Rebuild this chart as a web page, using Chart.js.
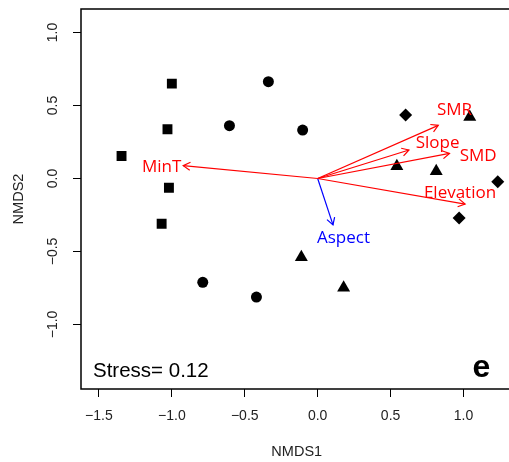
<!DOCTYPE html>
<html>
<head>
<meta charset="utf-8">
<script src="https://cdn.jsdelivr.net/npm/chart.js@4/dist/chart.umd.min.js"></script>
<style>
  html, body { margin: 0; padding: 0; background: #fff; overflow: hidden; }
  #wrap { width: 520px; height: 462px; position: relative; }
</style>
</head>
<body>
<div id="wrap"><canvas id="nmds-chart"></canvas></div>
<script>
// Site scores, one pair of arrays per symbol
const squareX = [-1.00, -1.03, -1.345, -1.02, -1.07];
const squareY = [0.65, 0.337, 0.154, -0.063, -0.31];
const circleX = [-0.338, -0.605, -0.103, -0.788, -0.42];
const circleY = [0.663, 0.362, 0.332, -0.711, -0.812];
const triangleX = [1.043, 0.543, 0.813, -0.112, 0.178];
const triangleY = [0.422, 0.084, 0.05, -0.539, -0.748];
const diamondX = [0.603, 1.235, 0.97];
const diamondY = [0.435, -0.022, -0.27];

// Fitted environmental vectors (arrow tips) and where their names sit
const envNames = ['SMR', 'Slope', 'SMD', 'Elevation', 'MinT', 'Aspect'];
const envX = [0.827, 0.626, 0.904, 1.011, -0.922, 0.105];
const envY = [0.364, 0.195, 0.172, -0.175, 0.088, -0.318];
const envLabelX = [0.938, 0.822, 1.101, 0.976, -1.070, 0.177];
const envLabelY = [0.469, 0.243, 0.154, -0.103, 0.081, -0.408];
const envSignificant = [true, true, true, true, true, false];

// Axes
const xTicks = [-1.5, -1.0, -0.5, 0.0, 0.5, 1.0];
const yTicks = [-1.0, -0.5, 0.0, 0.5, 1.0];
const stressValue = 0.12;
const panelLetter = 'e';

const AXIS_FONT = '"Liberation Sans", Arial, sans-serif';

function toPoints(xs, ys) {
    return xs.map((x, i) => ({ x: x, y: ys[i] }));
}

function fmt(v) {
    return v.toFixed(1).replace('-', '\u2212');
}

// Arrows first so they draw on top of the site symbols
const datasets = [];
envNames.forEach(function(name, i) {
    datasets.push({
        label: name,
        data: [{ x: 0, y: 0 }, { x: envX[i], y: envY[i] }],
        showLine: true,
        pointRadius: 0,
        borderColor: envSignificant[i] ? '#ff0000' : '#0000ff',
        borderWidth: 1.2,
        arrow: true
    });
});

const symbolStyle = { backgroundColor: '#000', borderColor: '#000', borderWidth: 0, showLine: false };
datasets.push(Object.assign({ label: 'squares', data: toPoints(squareX, squareY), pointStyle: 'rect', pointRadius: 7 }, symbolStyle));
datasets.push(Object.assign({ label: 'circles', data: toPoints(circleX, circleY), pointStyle: 'circle', pointRadius: 5.5 }, symbolStyle));
datasets.push(Object.assign({ label: 'triangles', data: toPoints(triangleX, triangleY), pointStyle: 'triangle', pointRadius: 7.5 }, symbolStyle));
datasets.push(Object.assign({ label: 'diamonds', data: toPoints(diamondX, diamondY), pointStyle: 'rectRot', pointRadius: 6.5 }, symbolStyle));

// Box, arrow heads, labels and tick text, R style
const rPlotPlugin = {
    id: 'rPlot',
    afterDatasetsDraw(chart) {
        const ctx = chart.ctx;
        const xs = chart.scales.x;
        const ys = chart.scales.y;

        // arrow heads
        chart.data.datasets.forEach(function(ds) {
            if (!ds.arrow) return;
            const x0 = xs.getPixelForValue(ds.data[0].x);
            const y0 = ys.getPixelForValue(ds.data[0].y);
            const x1 = xs.getPixelForValue(ds.data[1].x);
            const y1 = ys.getPixelForValue(ds.data[1].y);
            const ang = Math.atan2(y1 - y0, x1 - x0);
            const len = 8;
            ctx.save();
            ctx.strokeStyle = ds.borderColor;
            ctx.lineWidth = 1.2;
            ctx.beginPath();
            ctx.moveTo(x1 - len * Math.cos(ang - Math.PI / 6), y1 - len * Math.sin(ang - Math.PI / 6));
            ctx.lineTo(x1, y1);
            ctx.lineTo(x1 - len * Math.cos(ang + Math.PI / 6), y1 - len * Math.sin(ang + Math.PI / 6));
            ctx.stroke();
            ctx.restore();
        });

        // vector names
        ctx.save();
        ctx.font = '17px "Open Sans", sans-serif';
        ctx.textAlign = 'center';
        ctx.textBaseline = 'middle';
        envNames.forEach(function(name, i) {
            ctx.fillStyle = envSignificant[i] ? '#ff0000' : '#0000ff';
            ctx.fillText(name, xs.getPixelForValue(envLabelX[i]), ys.getPixelForValue(envLabelY[i]));
        });
        ctx.restore();
    },
    afterDraw(chart) {
        const ctx = chart.ctx;
        const area = chart.chartArea;
        const xs = chart.scales.x;
        const ys = chart.scales.y;

        ctx.save();
        // plot box
        ctx.strokeStyle = '#000';
        ctx.lineWidth = 1.5;
        ctx.strokeRect(area.left, area.top, area.right - area.left, area.bottom - area.top);

        // tick labels
        ctx.fillStyle = '#222';
        ctx.font = '14px ' + AXIS_FONT;
        ctx.textAlign = 'center';
        ctx.textBaseline = 'middle';
        xTicks.forEach(function(v) {
            ctx.fillText(fmt(v), xs.getPixelForValue(v), area.bottom + 27);
        });
        yTicks.forEach(function(v) {
            ctx.save();
            ctx.translate(area.left - 28, ys.getPixelForValue(v));
            ctx.rotate(-Math.PI / 2);
            ctx.fillText(fmt(v), 0, 0);
            ctx.restore();
        });

        // axis titles
        ctx.font = '14.5px ' + AXIS_FONT;
        ctx.fillText('NMDS1', (area.left + area.right) / 2, area.bottom + 63);
        ctx.save();
        ctx.translate(18.5, (area.top + area.bottom) / 2);
        ctx.rotate(-Math.PI / 2);
        ctx.fillText('NMDS2', 0, 0);
        ctx.restore();

        // stress and panel letter
        ctx.fillStyle = '#000';
        ctx.textBaseline = 'alphabetic';
        ctx.textAlign = 'left';
        ctx.font = '20.5px ' + AXIS_FONT;
        ctx.fillText('Stress= ' + stressValue.toFixed(2), area.left + 12, area.bottom - 12);
        ctx.textAlign = 'center';
        ctx.font = 'bold 32px ' + AXIS_FONT;
        ctx.fillText(panelLetter, area.right - 31, area.bottom - 12);
        ctx.restore();
    }
};

const tickGrid = { drawOnChartArea: false, drawTicks: true, tickLength: 8, color: '#000', lineWidth: 1 };

new Chart(document.getElementById('nmds-chart'), {
    type: 'scatter',
    data: { datasets: datasets },
    options: {
        responsive: true,
        maintainAspectRatio: false,
        animation: false,
        layout: { padding: { top: 9, right: 7, bottom: 0, left: 0 } },
        plugins: {
            legend: { display: false },
            tooltip: { enabled: false }
        },
        scales: {
            x: {
                type: 'linear',
                min: -1.623,
                max: 1.336,
                ticks: { display: false },
                afterBuildTicks: function(scale) { scale.ticks = xTicks.map(v => ({ value: v })); },
                afterFit: function(scale) { scale.height = 73; },
                grid: tickGrid,
                border: { display: false }
            },
            y: {
                type: 'linear',
                min: -1.442,
                max: 1.161,
                ticks: { display: false },
                afterBuildTicks: function(scale) { scale.ticks = yTicks.map(v => ({ value: v })); },
                afterFit: function(scale) { scale.width = 81; },
                grid: tickGrid,
                border: { display: false }
            }
        }
    },
    plugins: [rPlotPlugin]
});
</script>
</body>
</html>
